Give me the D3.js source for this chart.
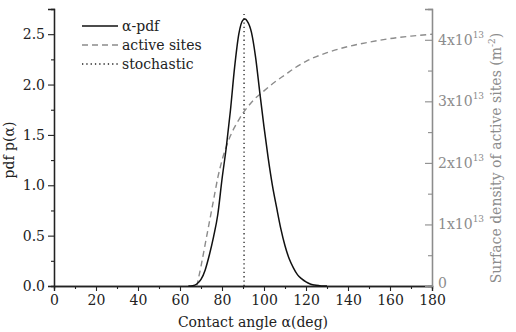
<!DOCTYPE html>
<html>
<head>
<meta charset="utf-8">
<script src="https://cdn.jsdelivr.net/npm/d3@7"></script>
<style>
  body { margin: 0; background: #fff; }
  text { font-family: "DejaVu Serif", serif; }
</style>
</head>
<body>
<div id="chart"></div>
<script>
// alpha-pdf curve (left axis)
var pdfAngle = [64, 66, 68, 70, 72, 74, 76, 78, 80, 82, 84, 86, 88, 90, 91, 92, 94, 96, 98, 100,
                102, 104, 106, 108, 110, 112, 114, 116, 118, 120, 122, 124, 126, 128, 130];
var pdfValue = [0, 0.003, 0.02, 0.065, 0.16, 0.31, 0.49, 0.71, 1.06, 1.37, 1.74, 2.17, 2.5, 2.64, 2.65, 2.63, 2.52, 2.27, 1.92, 1.58,
                1.27, 1.0, 0.78, 0.57, 0.40, 0.27, 0.18, 0.11, 0.07, 0.04, 0.02, 0.01, 0.004, 0, 0];

// active sites (right axis, units of 1e13 m^-2)
var siteAngle = [68, 70, 72, 74, 76, 78, 80, 82, 84, 86, 88, 90, 92, 95, 100, 105, 110, 115, 120, 130, 140, 150, 160, 170, 180];
var siteValue = [0, 0.32, 0.68, 1.04, 1.40, 1.76, 2.04, 2.26, 2.44, 2.58, 2.70, 2.81, 2.90, 3.02, 3.17, 3.31, 3.43, 3.55, 3.65, 3.79, 3.89, 3.96, 4.02, 4.06, 4.09];

// stochastic angle
var stochAngle = 90.5;
var stochTop = 2.7;

var xTicks = [0, 20, 40, 60, 80, 100, 120, 140, 160, 180];
var yTicks = [0, 0.5, 1.0, 1.5, 2.0, 2.5];
var rTicks = [0, 1, 2, 3, 4];
var legendNames = ["\u03b1-pdf", "active sites", "stochastic"];

var width = 516,
    height = 332;
var padL = 54, padR = 432, padT = 9, padB = 286;

var svg = d3.select("#chart").append("svg")
    .attr("width", width)
    .attr("height", height);

var x = d3.scaleLinear().domain([0, 180]).range([padL, padR]);
var y = d3.scaleLinear().domain([0, 2.75]).range([padB, padT]);
var yr = d3.scaleLinear().domain([0, 4.5]).range([padB, padT]);

var grey = "#8c8c8c";

function axis_style(g, colour) {
    g.selectAll(".domain").attr("stroke", colour).attr("stroke-width", 1.3);
    g.selectAll("line").attr("stroke", colour).attr("stroke-width", 1.1);
    g.selectAll("text").attr("fill", colour).attr("font-size", "14px");
}

// minor ticks first
svg.append("g")
    .attr("transform", "translate(0," + padB + ")")
    .call(d3.axisBottom(x).tickValues(d3.range(10, 180, 20)).tickSize(3).tickFormat(""))
    .call(axis_style, "#222");
svg.append("g")
    .attr("transform", "translate(" + padL + ",0)")
    .call(d3.axisLeft(y).tickValues(d3.range(0.25, 2.75, 0.5)).tickSize(3).tickFormat(""))
    .call(axis_style, "#222");
svg.append("g")
    .attr("transform", "translate(" + padR + ",0)")
    .call(d3.axisLeft(yr).tickValues(d3.range(0.5, 4.5, 1)).tickSize(4).tickFormat(""))
    .call(axis_style, grey);

var gx = svg.append("g")
    .attr("transform", "translate(0," + padB + ")")
    .call(d3.axisBottom(x).tickValues(xTicks).tickSize(5).tickPadding(4).tickFormat(d3.format("d")))
    .call(axis_style, "#222");

var gy = svg.append("g")
    .attr("transform", "translate(" + padL + ",0)")
    .call(d3.axisLeft(y).tickValues(yTicks).tickSize(6).tickPadding(3).tickFormat(d3.format(".1f")))
    .call(axis_style, "#222");

var gr = svg.append("g")
    .attr("transform", "translate(" + padR + ",0)")
    .call(d3.axisLeft(yr).tickValues(rTicks).tickSize(7).tickFormat(""))
    .call(axis_style, grey);

// right tick labels with superscript
rTicks.forEach(function (d) {
    var t = svg.append("text")
        .attr("x", padR + 6)
        .attr("y", yr(d) + (d === 0 ? 2 : 5))
        .attr("fill", grey)
        .attr("font-size", "14px");
    if (d === 0) {
        t.text("0");
    } else {
        t.append("tspan").text(d + "x10");
        t.append("tspan").attr("font-size", "9px").attr("dy", -7).text("13");
    }
});

// curves
var pdfLine = d3.line()
    .x(function (d) { return x(d[0]); })
    .y(function (d) { return y(d[1]); })
    .curve(d3.curveMonotoneX);
var siteLine = d3.line()
    .x(function (d) { return x(d[0]); })
    .y(function (d) { return yr(d[1]); })
    .curve(d3.curveMonotoneX);

svg.append("path")
    .datum(d3.zip(siteAngle, siteValue))
    .attr("d", siteLine)
    .attr("fill", "none")
    .attr("stroke", grey)
    .attr("stroke-width", 1.4)
    .attr("stroke-dasharray", "6,4");

svg.append("path")
    .datum(d3.zip(pdfAngle, pdfValue))
    .attr("d", pdfLine)
    .attr("fill", "none")
    .attr("stroke", "#111")
    .attr("stroke-width", 1.5);

svg.append("line")
    .attr("x1", x(stochAngle)).attr("x2", x(stochAngle))
    .attr("y1", y(0)).attr("y2", y(stochTop))
    .attr("stroke", "#222")
    .attr("stroke-width", 1.3)
    .attr("stroke-dasharray", "1.3,3");

// legend
var dashes = [null, "6,4", "1.3,3"];
var colours = ["#111", grey, "#222"];
legendNames.forEach(function (name, i) {
    var ly = 26 + i * 19;
    svg.append("line")
        .attr("x1", 82).attr("x2", 118)
        .attr("y1", ly).attr("y2", ly)
        .attr("stroke", colours[i])
        .attr("stroke-width", 1.4)
        .attr("stroke-dasharray", dashes[i]);
    svg.append("text")
        .attr("x", 122)
        .attr("y", ly + 5)
        .attr("font-size", "14px")
        .attr("fill", "#222")
        .text(name);
});

// axis titles
svg.append("text")
    .attr("x", (padL + padR) / 2 + 10)
    .attr("y", 327)
    .attr("text-anchor", "middle")
    .attr("font-size", "14px")
    .attr("fill", "#222")
    .text("Contact angle \u03b1(deg)");

svg.append("text")
    .attr("transform", "translate(14,150) rotate(-90)")
    .attr("text-anchor", "middle")
    .attr("font-size", "14px")
    .attr("fill", "#222")
    .text("pdf p(\u03b1)");

var rt = svg.append("text")
    .attr("transform", "translate(501,158) rotate(-90)")
    .attr("text-anchor", "middle")
    .attr("font-size", "14px")
    .attr("fill", grey);
rt.append("tspan").text("Surface density of active sites (m");
rt.append("tspan").attr("font-size", "9px").attr("dy", -6).text("-2");
rt.append("tspan").attr("dy", 6).text(")");
</script>
</body>
</html>
